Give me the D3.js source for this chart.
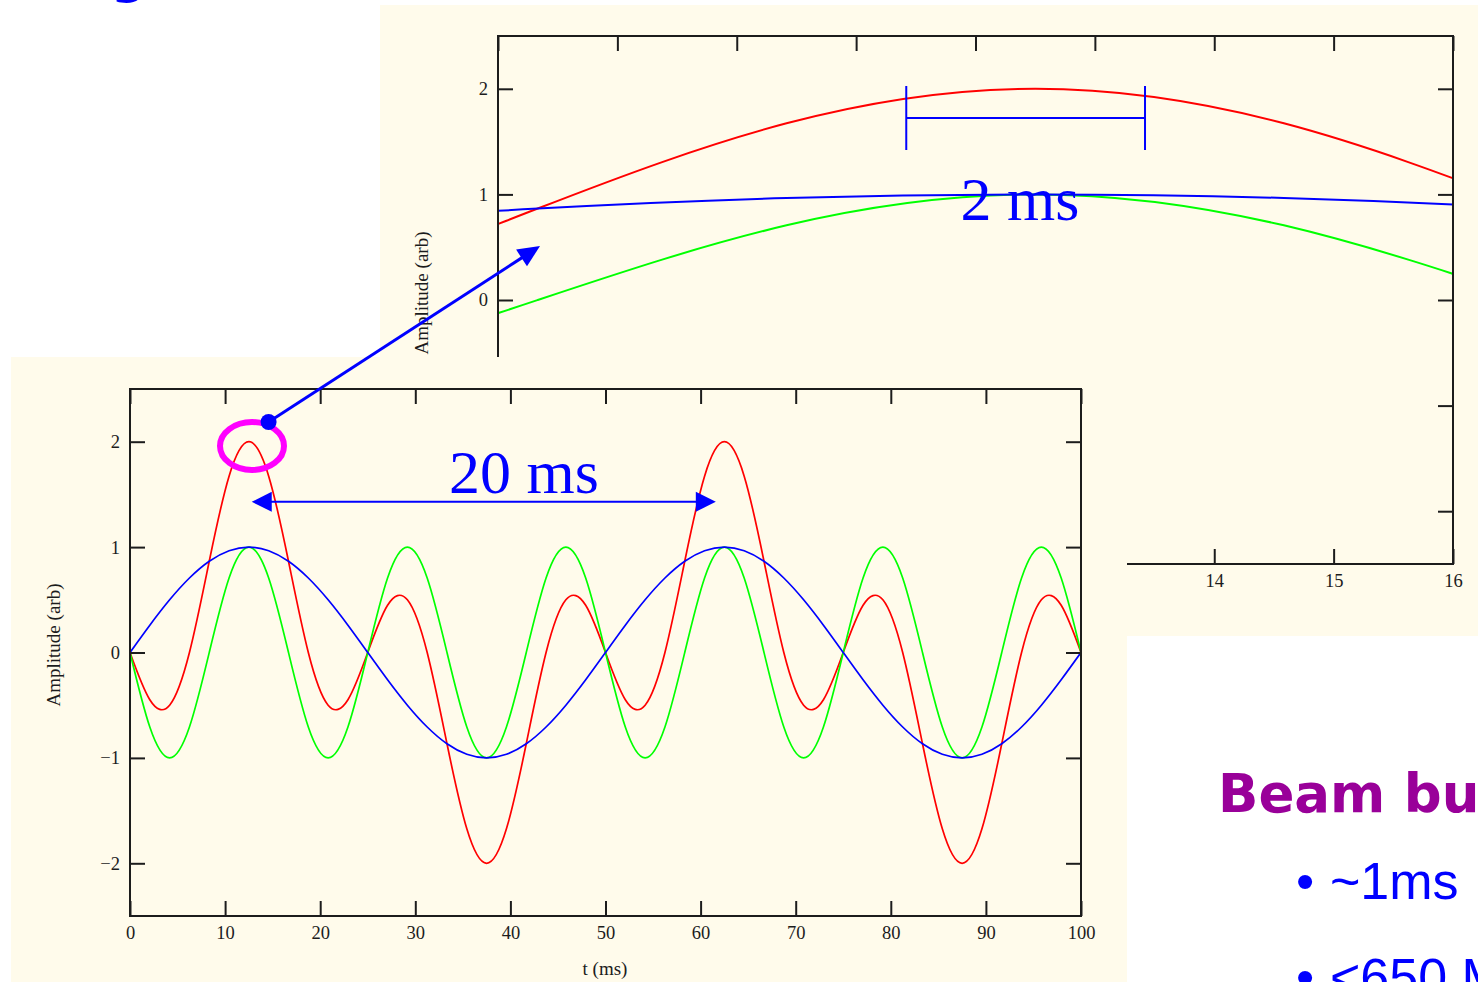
<!DOCTYPE html>
<html>
<head>
  <meta charset="utf-8">
  <title>Amplitude vs time</title>
  <script src="https://d3js.org/d3.v7.min.js"></script>
  <style>
    body { margin: 0; background: #fff; }
    svg { display: block; }
  </style>
</head>
<body>
  <div id="chart"></div>
  <script>
    // sample times (ms) and the three traces
    var times = [0, 2.083, 4.167, 6.25, 8.333, 10.417, 12.5, 14.583, 16.667, 18.75, 20.833, 22.917,
                 25, 27.083, 29.167, 31.25, 33.333, 35.417, 37.5, 39.583, 41.667, 43.75, 45.833, 47.917,
                 50, 52.083, 54.167, 56.25, 58.333, 60.417, 62.5, 64.583, 66.667, 68.75, 70.833, 72.917,
                 75, 77.083, 79.167, 81.25, 83.333, 85.417, 87.5, 89.583, 91.667, 93.75, 95.833, 97.917,
                 100];
    var blue = [0, 0.259, 0.5, 0.707, 0.866, 0.966, 1, 0.966, 0.866, 0.707, 0.5, 0.259,
                0, -0.259, -0.5, -0.707, -0.866, -0.966, -1, -0.966, -0.866, -0.707, -0.5, -0.259,
                0, 0.259, 0.5, 0.707, 0.866, 0.966, 1, 0.966, 0.866, 0.707, 0.5, 0.259,
                0, -0.259, -0.5, -0.707, -0.866, -0.966, -1, -0.966, -0.866, -0.707, -0.5, -0.259,
                0];
    var green = [0, -0.707, -1, -0.707, 0, 0.707, 1, 0.707, 0, -0.707, -1, -0.707,
                 0, 0.707, 1, 0.707, 0, -0.707, -1, -0.707, 0, 0.707, 1, 0.707,
                 0, -0.707, -1, -0.707, 0, 0.707, 1, 0.707, 0, -0.707, -1, -0.707,
                 0, 0.707, 1, 0.707, 0, -0.707, -1, -0.707, 0, 0.707, 1, 0.707,
                 0];
    var red = [0, -0.448, -0.5, 0, 0.866, 1.673, 2, 1.673, 0.866, 0, -0.5, -0.448,
               0, 0.448, 0.5, 0, -0.866, -1.673, -2, -1.673, -0.866, 0, 0.5, 0.448,
               0, -0.448, -0.5, 0, 0.866, 1.673, 2, 1.673, 0.866, 0, -0.5, -0.448,
               0, 0.448, 0.5, 0, -0.866, -1.673, -2, -1.673, -0.866, 0, 0.5, 0.448,
               0];

    var mainXTicks = [0, 10, 20, 30, 40, 50, 60, 70, 80, 90, 100];
    var zoomXTicks = [8, 9, 10, 11, 12, 13, 14, 15, 16];
    var yTicks = [-2, -1, 0, 1, 2];

    var W = 1478, H = 982;
    var cream = "#fffbeb", ink = "#1c1c1c";

    var svg = d3.select("#chart")
      .append("svg")
      .attr("width", W)
      .attr("height", H);

    svg.append("rect").attr("width", W).attr("height", H).attr("fill", "#fff");

    // bit of the slide title cut off at the top
    svg.append("text")
      .attr("x", 129).attr("y", -7)
      .attr("text-anchor", "middle")
      .attr("font-family", "DejaVu Sans").attr("font-weight", "bold")
      .attr("font-size", 50).attr("fill", "#0000ff")
      .text("g");

    function drawPlot(g, x, y, xTicks, clipId, lw) {
      var xr = x.range(), yr = y.range();

      g.append("clipPath").attr("id", clipId)
        .append("rect")
        .attr("x", xr[0]).attr("y", yr[1])
        .attr("width", xr[1] - xr[0]).attr("height", yr[0] - yr[1]);

      var line = d3.line()
        .x(function(d) { return x(d[0]); })
        .y(function(d) { return y(d[1]); })
        .curve(d3.curveNatural);

      var series = [[red, "#ff0000"], [green, "#00ff00"], [blue, "#0000ff"]];
      g.append("g").attr("clip-path", "url(#" + clipId + ")")
        .selectAll("path")
        .data(series)
        .enter()
        .append("path")
        .attr("d", function(s) { return line(times.map(function(t, i) { return [t, s[0][i]]; })); })
        .attr("fill", "none")
        .attr("stroke", function(s) { return s[1]; })
        .attr("stroke-width", lw);

      function style(ax) {
        ax.select(".domain").remove();
        ax.selectAll(".tick line").attr("stroke", ink).attr("stroke-width", 2);
        ax.selectAll("text")
          .attr("font-family", "Liberation Serif")
          .attr("font-size", 18.5)
          .attr("fill", ink);
      }

      g.append("g").attr("transform", "translate(0," + yr[0] + ")")
        .call(d3.axisBottom(x).tickValues(xTicks).tickSize(-15).tickPadding(10).tickFormat(d3.format("d")))
        .call(style);
      g.append("g").attr("transform", "translate(0," + yr[1] + ")")
        .call(d3.axisTop(x).tickValues(xTicks).tickSize(-15).tickFormat(""))
        .call(style);
      g.append("g").attr("transform", "translate(" + xr[0] + ",0)")
        .call(d3.axisLeft(y).tickValues(yTicks).tickSize(-15).tickPadding(10).tickFormat(d3.format("d")))
        .call(style);
      g.append("g").attr("transform", "translate(" + xr[1] + ",0)")
        .call(d3.axisRight(y).tickValues(yTicks).tickSize(-15).tickFormat(""))
        .call(style);

      g.append("rect")
        .attr("x", xr[0]).attr("y", yr[1])
        .attr("width", xr[1] - xr[0]).attr("height", yr[0] - yr[1])
        .attr("fill", "none").attr("stroke", ink).attr("stroke-width", 2);
    }

    function yLabel(g, cx, cy) {
      g.append("text")
        .attr("transform", "translate(" + cx + "," + cy + ") rotate(-90)")
        .attr("text-anchor", "middle")
        .attr("font-family", "Liberation Serif").attr("font-size", 19)
        .attr("fill", ink)
        .text("Amplitude (arb)");
    }

    // ---- zoomed panel (behind) ----
    var zoomPanel = svg.append("g");
    zoomPanel.append("rect").attr("x", 380).attr("y", 5).attr("width", W - 380).attr("height", 631).attr("fill", cream);
    var xz = d3.scaleLinear().domain([8, 16]).range([498, 1453]);
    var yz = d3.scaleLinear().domain([-2.5, 2.5]).range([564, 36]);
    drawPlot(zoomPanel, xz, yz, zoomXTicks, "clipZoom", 2);
    yLabel(zoomPanel, 428, 293);

    // 2 ms bracket
    var bx0 = xz(11.42), bx1 = xz(13.42);
    zoomPanel.append("path")
      .attr("d", "M" + bx0 + ",86V150M" + bx1 + ",86V150M" + bx0 + ",118H" + bx1)
      .attr("stroke", "#0000ff").attr("stroke-width", 2).attr("fill", "none");
    zoomPanel.append("text")
      .attr("x", 1020).attr("y", 220)
      .attr("text-anchor", "middle")
      .attr("font-family", "Liberation Serif").attr("font-size", 62)
      .attr("fill", "#0000ff")
      .text("2 ms");

    // ---- main panel ----
    var mainPanel = svg.append("g");
    mainPanel.append("rect").attr("x", 11).attr("y", 357).attr("width", 1116).attr("height", H - 357).attr("fill", cream);
    var x = d3.scaleLinear().domain([0, 100]).range([130, 1081]);
    var y = d3.scaleLinear().domain([-2.5, 2.5]).range([916, 389]);
    drawPlot(mainPanel, x, y, mainXTicks, "clipMain", 1.7);
    yLabel(mainPanel, 60, 645);
    mainPanel.append("text")
      .attr("x", 605).attr("y", 975)
      .attr("text-anchor", "middle")
      .attr("font-family", "Liberation Serif").attr("font-size", 19)
      .attr("fill", ink)
      .text("t (ms)");

    // ---- text box bottom right ----
    var box = svg.append("g");
    box.append("rect").attr("x", 1127).attr("y", 636).attr("width", W - 1127).attr("height", H - 636).attr("fill", "#fff");
    box.append("text")
      .attr("x", 1218).attr("y", 812)
      .attr("font-family", "DejaVu Sans").attr("font-weight", "bold").attr("font-size", 53)
      .attr("fill", "#990099")
      .text("Beam burst");
    [["~1ms", 899], ["<650 MeV", 995]].forEach(function(b) {
      box.append("text")
        .attr("x", 1305).attr("y", b[1])
        .attr("text-anchor", "middle")
        .attr("font-family", "Liberation Sans").attr("font-size", 52)
        .attr("fill", "#0000ff")
        .text("\u2022");
      box.append("text")
        .attr("x", 1330).attr("y", b[1])
        .attr("font-family", "Liberation Sans").attr("font-size", 52)
        .attr("fill", "#0000ff")
        .text(b[0]);
    });

    // ---- annotations ----
    function head(tip, from, len, half) {
      var dx = tip[0] - from[0], dy = tip[1] - from[1], L = Math.hypot(dx, dy);
      var ux = dx / L, uy = dy / L;
      var bx = tip[0] - ux * len, by = tip[1] - uy * len;
      return [tip, [bx - uy * half, by + ux * half], [bx + uy * half, by - ux * half]];
    }
    function base(tip, from, len) {
      var dx = tip[0] - from[0], dy = tip[1] - from[1], L = Math.hypot(dx, dy);
      return [tip[0] - dx / L * len, tip[1] - dy / L * len];
    }

    var ann = svg.append("g");
    ann.append("ellipse")
      .attr("cx", 252).attr("cy", 446).attr("rx", 32).attr("ry", 24)
      .attr("fill", "none").attr("stroke", "#ff00ff").attr("stroke-width", 6);

    // connector from the peak to the zoomed panel
    var c0 = [268.6, 422], c1 = [540, 246];
    var cb = base(c1, c0, 20);
    ann.append("line")
      .attr("x1", c0[0]).attr("y1", c0[1]).attr("x2", cb[0]).attr("y2", cb[1])
      .attr("stroke", "#0000ff").attr("stroke-width", 3);
    ann.append("polygon").attr("points", head(c1, c0, 22, 10).join(" ")).attr("fill", "#0000ff");
    ann.append("circle").attr("cx", c0[0]).attr("cy", c0[1]).attr("r", 8).attr("fill", "#0000ff");

    // 20 ms double arrow
    var a0 = [x(12.8), y(1.43)], a1 = [x(61.6), y(1.43)];
    var ab0 = base(a0, a1, 18), ab1 = base(a1, a0, 18);
    ann.append("line")
      .attr("x1", ab0[0]).attr("y1", ab0[1]).attr("x2", ab1[0]).attr("y2", ab1[1])
      .attr("stroke", "#0000ff").attr("stroke-width", 2);
    ann.append("polygon").attr("points", head(a0, a1, 20, 10).join(" ")).attr("fill", "#0000ff");
    ann.append("polygon").attr("points", head(a1, a0, 20, 10).join(" ")).attr("fill", "#0000ff");
    ann.append("text")
      .attr("x", 524).attr("y", 493)
      .attr("text-anchor", "middle")
      .attr("font-family", "Liberation Serif").attr("font-size", 62)
      .attr("fill", "#0000ff")
      .text("20 ms");
  </script>
</body>
</html>
